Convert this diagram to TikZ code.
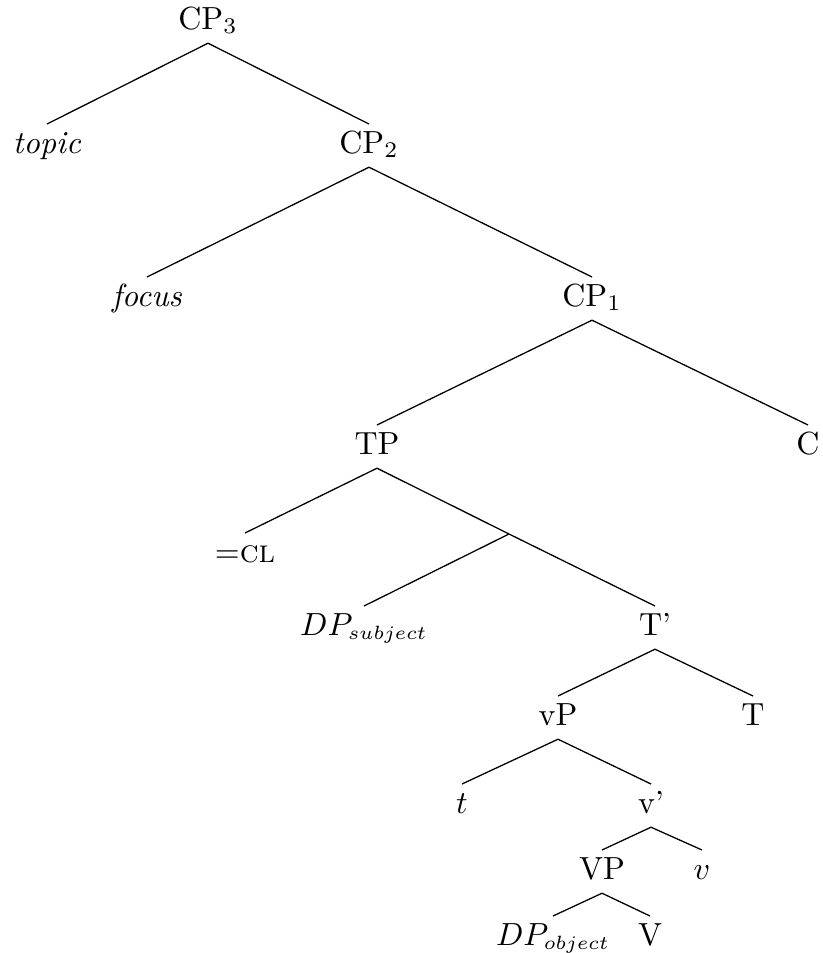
\documentclass[tikz,border=0pt]{standalone}
\usepackage{amsmath}
\newcommand{\lowtag}[1]{\mbox{\fontsize{6.2}{7}\selectfont$#1$}}
\tikzset{>=stealth, lab/.style={anchor=north, inner xsep=0pt, inner ysep=2pt, text height=6.9pt, text depth=2.2pt}}
\begin{document}
\begin{tikzpicture}[x=31.25pt, y=31.25pt]
    \useasboundingbox (0,0) rectangle (8.22,-9.53);
    \node[lab] (CPc) at (2.08,0) {CP$_3$};
    \node[lab] (top) at (0.47,-1.24) {\textit{topic}};
    \node[lab] (CPb) at (3.69,-1.24) {CP$_2$};
    \node[lab] (foc) at (1.47,-2.77) {\textit{focus}};
    \node[lab] (CPa) at (5.92,-2.77) {CP$_1$};
    \node[lab] (TP) at (3.77,-4.25) {TP};
    \node[lab] (C) at (8.08,-4.25) {C};
    \node[lab] (CL) at (2.45,-5.33) {=\textsc{cl}};
    \coordinate (b) at (5.09,-5.34);
    \node[lab] (DPs) at (3.64,-6.06) {$DP_{\lowtag{subject}}$};
    \node[lab] (Tb) at (6.55,-6.06) {T'};
    \node[lab] (vP) at (5.58,-6.96) {vP};
    \node[lab] (T) at (7.53,-6.96) {T};
    \node[lab] (t) at (4.62,-7.84) {$t$};
    \node[lab] (vb) at (6.51,-7.84) {v'};
    \node[lab] (VP) at (6.02,-8.50) {VP};
    \node[lab] (v) at (7.02,-8.50) {$v$};
    \node[lab] (DPo) at (5.53,-9.16) {$DP_{\lowtag{object}}$};
    \node[lab] (V) at (6.50,-9.16) {V};
    \draw (CPc.south) -- (top.north) (CPc.south) -- (CPb.north);
    \draw (CPb.south) -- (foc.north) (CPb.south) -- (CPa.north);
    \draw (CPa.south) -- (TP.north) (CPa.south) -- (C.north);
    \draw (TP.south) -- (CL.north) (TP.south) -- (b);
    \draw (b) -- (DPs.north) (b) -- (Tb.north);
    \draw (Tb.south) -- (vP.north) (Tb.south) -- (T.north);
    \draw (vP.south) -- (t.north) (vP.south) -- (vb.north);
    \draw (vb.south) -- (VP.north) (vb.south) -- (v.north);
    \draw (VP.south) -- (DPo.north) (VP.south) -- (V.north);
\end{tikzpicture}
\end{document}
